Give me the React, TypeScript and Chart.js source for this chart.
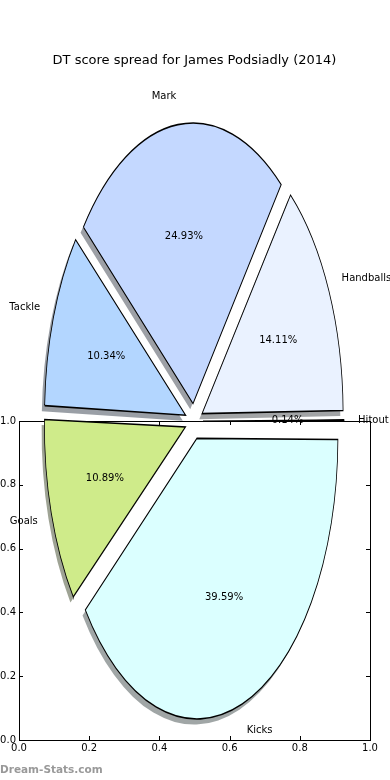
import React, { useEffect, useRef } from 'react';
import { Chart, registerables } from 'chart.js';

Chart.register(...registerables);

const TITLE = 'DT score spread for James Podsiadly (2014)';
const WATERMARK = 'Dream-Stats.com';
// clockwise from east, as Chart.js draws them
const CATEGORIES = ['Kicks', 'Goals', 'Tackle', 'Mark', 'Handballs', 'Hitout'];
const SHARES = [39.59, 10.89, 10.34, 24.93, 14.11, 0.14];
const SLICE_COLORS = ['#dbffff', '#cfeb8a', '#b3d6ff', '#c4d8ff', '#eaf2ff', '#f2f2f2'];
const AXIS_TICKS = [0, 0.2, 0.4, 0.6, 0.8, 1.0];
const AXIS_TICK_LABELS = ['0.0', '0.2', '0.4', '0.6', '0.8', '1.0'];

const W = 390;
const H = 780;
const CX = 194;
const CY = 421.4;
const R = 141;
const SY = 1.99;
const EXPLODE = 9;
const SHADOW_DX = -2.8;
const SHADOW_DY = 5.6;
const FONT = '"DejaVu Sans", sans-serif';

function shadowOf(hex: string): string {
  const n = parseInt(hex.slice(1), 16);
  const r = Math.round(((n >> 16) & 255) * 0.3);
  const g = Math.round(((n >> 8) & 255) * 0.3);
  const b = Math.round((n & 255) * 0.3);
  return `rgba(${r},${g},${b},0.5)`;
}

function ellipsePlugin(dx: number, dy: number, withLabels: boolean) {
  return {
    id: 'ellipse',
    beforeDatasetsDraw(chart: any) {
      const meta = chart.getDatasetMeta(0);
      meta.data.forEach((el: any) => {
        const fix = 1 - Math.sin(Math.min(Math.PI, el.circumference));
        el.outerRadius = R - EXPLODE * fix;
      });
      const el0: any = meta.data[0];
      const ctx = chart.ctx;
      ctx.save();
      ctx.translate(el0.x + dx, el0.y + dy);
      ctx.scale(1, SY);
      ctx.translate(-el0.x, -el0.y);
    },
    afterDatasetsDraw(chart: any) {
      const ctx = chart.ctx;
      ctx.restore();
      if (!withLabels) return;
      const meta = chart.getDatasetMeta(0);
      ctx.save();
      ctx.fillStyle = '#000';
      ctx.font = `10px ${FONT}`;
      ctx.textBaseline = 'middle';
      meta.data.forEach((el: any, i: number) => {
        const mid = (el.startAngle + el.endAngle) / 2;
        const c = Math.cos(mid);
        const s = Math.sin(mid);
        const d1 = EXPLODE + 1.1 * R;
        ctx.textAlign = c < 0 ? 'right' : 'left';
        ctx.fillText(CATEGORIES[i], el.x + c * d1, el.y + SY * s * d1);
        const d2 = EXPLODE + 0.6 * R;
        ctx.textAlign = 'center';
        ctx.fillText(SHARES[i].toFixed(2) + '%', el.x + c * d2, el.y + SY * s * d2);
      });
      ctx.restore();
    },
  };
}

function pieConfig(colors: string[], border: number, dx: number, dy: number, labels: boolean): any {
  return {
    type: 'pie',
    data: {
      labels: CATEGORIES,
      datasets: [
        {
          data: SHARES,
          backgroundColor: colors,
          borderColor: '#000',
          borderWidth: border,
          borderJoinStyle: 'miter',
          offset: EXPLODE * 4,
          hoverOffset: 0,
          clip: false,
        },
      ],
    },
    options: {
      animation: false,
      responsive: false,
      events: [],
      rotation: 90,
      radius: R,
      layout: { padding: { left: 0, right: W - 2 * CX, top: 2 * CY - H, bottom: 0 } },
      plugins: { legend: { display: false }, tooltip: { enabled: false }, title: { display: false } },
    },
    plugins: [ellipsePlugin(dx, dy, labels)],
  };
}

const axesDecor = {
  id: 'axesDecor',
  afterDraw(chart: any) {
    const ctx = chart.ctx;
    const { left, right, top, bottom } = chart.chartArea;
    ctx.save();
    ctx.strokeStyle = '#000';
    ctx.lineWidth = 1;
    ctx.strokeRect(Math.round(left) + 0.5, Math.round(top) + 0.5, Math.round(right - left), Math.round(bottom - top));
    const xs = chart.scales.x;
    const ys = chart.scales.y;
    ctx.beginPath();
    AXIS_TICKS.forEach((v) => {
      const px = Math.round(xs.getPixelForValue(v)) + 0.5;
      ctx.moveTo(px, bottom);
      ctx.lineTo(px, bottom - 4);
      ctx.moveTo(px, top);
      ctx.lineTo(px, top + 4);
      const py = Math.round(ys.getPixelForValue(v)) + 0.5;
      ctx.moveTo(left, py);
      ctx.lineTo(left + 4, py);
      ctx.moveTo(right, py);
      ctx.lineTo(right - 4, py);
    });
    ctx.stroke();
    ctx.fillStyle = '#000';
    ctx.font = `13px ${FONT}`;
    ctx.textAlign = 'center';
    ctx.textBaseline = 'middle';
    ctx.fillText(TITLE, (left + right) / 2, 61);
    ctx.fillStyle = '#999';
    ctx.font = `bold 10.5px ${FONT}`;
    ctx.textAlign = 'left';
    ctx.fillText(WATERMARK, 0, 770);
    ctx.restore();
  },
};

function axisScale(isX: boolean): any {
  return {
    type: 'linear',
    min: 0,
    max: 1,
    afterBuildTicks: (s: any) => {
      s.ticks = AXIS_TICKS.map((v) => ({ value: v }));
    },
    afterFit: (s: any) => {
      if (isX) s.height = 40;
      else s.width = 19;
    },
    ticks: {
      autoSkip: false,
      maxRotation: 0,
      padding: isX ? 2 : 3,
      color: '#000',
      font: { family: FONT, size: 10 },
      callback: (value: any) => AXIS_TICK_LABELS[AXIS_TICKS.indexOf(Number(value))] ?? '',
    },
    grid: { display: false, drawTicks: false },
    border: { display: false },
  };
}

export default function App() {
  const axesRef = useRef<HTMLCanvasElement>(null);
  const shadowRef = useRef<HTMLCanvasElement>(null);
  const pieRef = useRef<HTMLCanvasElement>(null);

  useEffect(() => {
    const axes = new Chart(axesRef.current as HTMLCanvasElement, {
      type: 'scatter',
      data: { datasets: [{ data: [] }] },
      options: {
        animation: false,
        responsive: false,
        events: [],
        layout: { padding: { top: 421, right: 20, left: 0, bottom: 0 } },
        plugins: { legend: { display: false }, tooltip: { enabled: false } },
        scales: { x: axisScale(true), y: axisScale(false) },
      },
      plugins: [axesDecor],
    } as any);
    const shadow = new Chart(
      shadowRef.current as HTMLCanvasElement,
      pieConfig(SLICE_COLORS.map(shadowOf), 0, SHADOW_DX, SHADOW_DY, false)
    );
    const pie = new Chart(pieRef.current as HTMLCanvasElement, pieConfig(SLICE_COLORS, 0.8, 0, 0, true));
    return () => {
      pie.destroy();
      shadow.destroy();
      axes.destroy();
    };
  }, []);

  const layer: React.CSSProperties = { position: 'absolute', left: 0, top: 0 };
  return (
    <div style={{ position: 'absolute', left: 0, top: 0, width: W, height: H, background: '#fff' }}>
      <canvas ref={axesRef} width={W} height={H} style={layer} />
      <canvas ref={shadowRef} width={W} height={H} style={layer} />
      <canvas ref={pieRef} width={W} height={H} style={layer} />
    </div>
  );
}
